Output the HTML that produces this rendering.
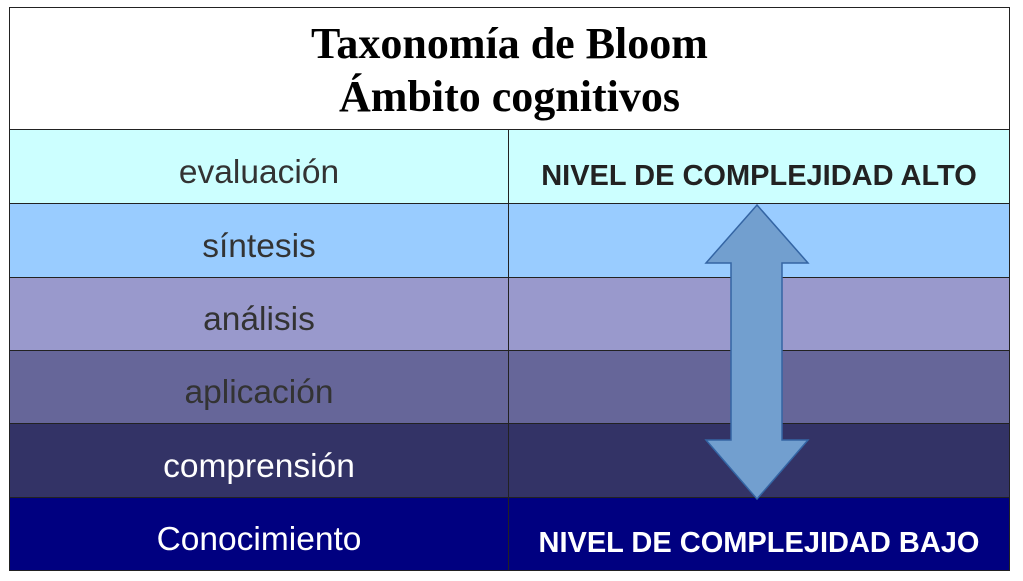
<!DOCTYPE html>
<html><head><meta charset="utf-8"><style>
body{margin:0;width:1023px;height:581px;background:#fff;position:relative;overflow:hidden}
.c{position:absolute;box-sizing:border-box;border:1px solid #222;display:flex;align-items:center;justify-content:center;font-family:"Liberation Sans",sans-serif}
.t{font-family:"Liberation Serif",serif;font-weight:bold;font-size:44px;line-height:53px;text-align:center;flex-direction:column;color:#000;padding-top:2px}
.l{font-size:33.5px;color:#333;padding-top:12px}
.r{font-size:29px;font-weight:bold;padding-top:20px}
</style></head><body>
<div class="c t" style="left:9px;top:7px;width:1001px;height:123px">Taxonomía de Bloom<br>Ámbito cognitivos</div>
<div class="c l" style="left:9px;top:129px;width:500px;height:75px;background:#ccffff">evaluación</div>
<div class="c r" style="left:508px;top:129px;width:502px;height:75px;background:#ccffff;color:#222">NIVEL DE COMPLEJIDAD ALTO</div>
<div class="c l" style="left:9px;top:203px;width:500px;height:75px;background:#99ccff">síntesis</div>
<div class="c" style="left:508px;top:203px;width:502px;height:75px;background:#99ccff"></div>
<div class="c l" style="left:9px;top:277px;width:500px;height:74px;background:#9999cc">análisis</div>
<div class="c" style="left:508px;top:277px;width:502px;height:74px;background:#9999cc"></div>
<div class="c l" style="left:9px;top:350px;width:500px;height:74px;background:#666699">aplicación</div>
<div class="c" style="left:508px;top:350px;width:502px;height:74px;background:#666699"></div>
<div class="c l" style="left:9px;top:423px;width:500px;height:75px;background:#333366;color:#fff">comprensión</div>
<div class="c" style="left:508px;top:423px;width:502px;height:75px;background:#333366"></div>
<div class="c l" style="left:9px;top:497px;width:500px;height:74px;background:#000080;color:#fff">Conocimiento</div>
<div class="c r" style="left:508px;top:497px;width:502px;height:74px;background:#000080;color:#fff;padding-top:18px">NIVEL DE COMPLEJIDAD BAJO</div>
<svg style="position:absolute;left:0;top:0" width="1023" height="581">
<polygon points="757,205 808,263 782,263 782,440 808,440 757,499 706,440 731,440 731,263 706,263" fill="#729fcf" stroke="#3465a4" stroke-width="1.5"/>
</svg>
</body></html>
